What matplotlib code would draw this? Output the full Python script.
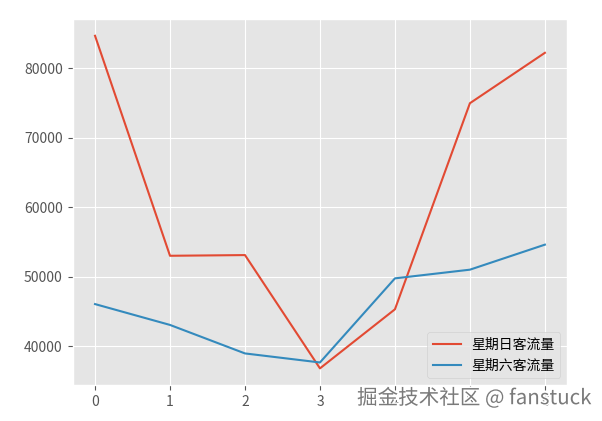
import matplotlib
matplotlib.use("Agg")
import matplotlib.pyplot as plt
import matplotlib.patheffects as pe

plt.style.use("ggplot")
plt.rcParams['font.family'] = ['Noto Sans CJK SC', 'DejaVu Sans']

days = [0, 1, 2, 3, 4, 5, 6]
sunday = [84700, 53050, 53150, 36850, 45350, 75000, 82250]
saturday = [46100, 43100, 39000, 37700, 49800, 51050, 54650]
labels = ['星期日客流量', '星期六客流量']

fig = plt.figure(figsize=(6.02, 4.21), dpi=100)
ax = fig.add_axes([0.1205, 0.0855, 0.822, 0.869])
ax.plot(days, sunday, label=labels[0])
ax.plot(days, saturday, label=labels[1])
ax.tick_params(labelsize=10)
ax.legend(loc='lower right', fontsize=10)

fig.text(0.982, 0.028, '掘金技术社区 @ fanstuck', ha='right', va='bottom',
         fontsize=14.8, color='#7a7a7a',
         path_effects=[pe.withStroke(linewidth=2.2, foreground='white')])

fig.savefig('out.png', dpi=100)
